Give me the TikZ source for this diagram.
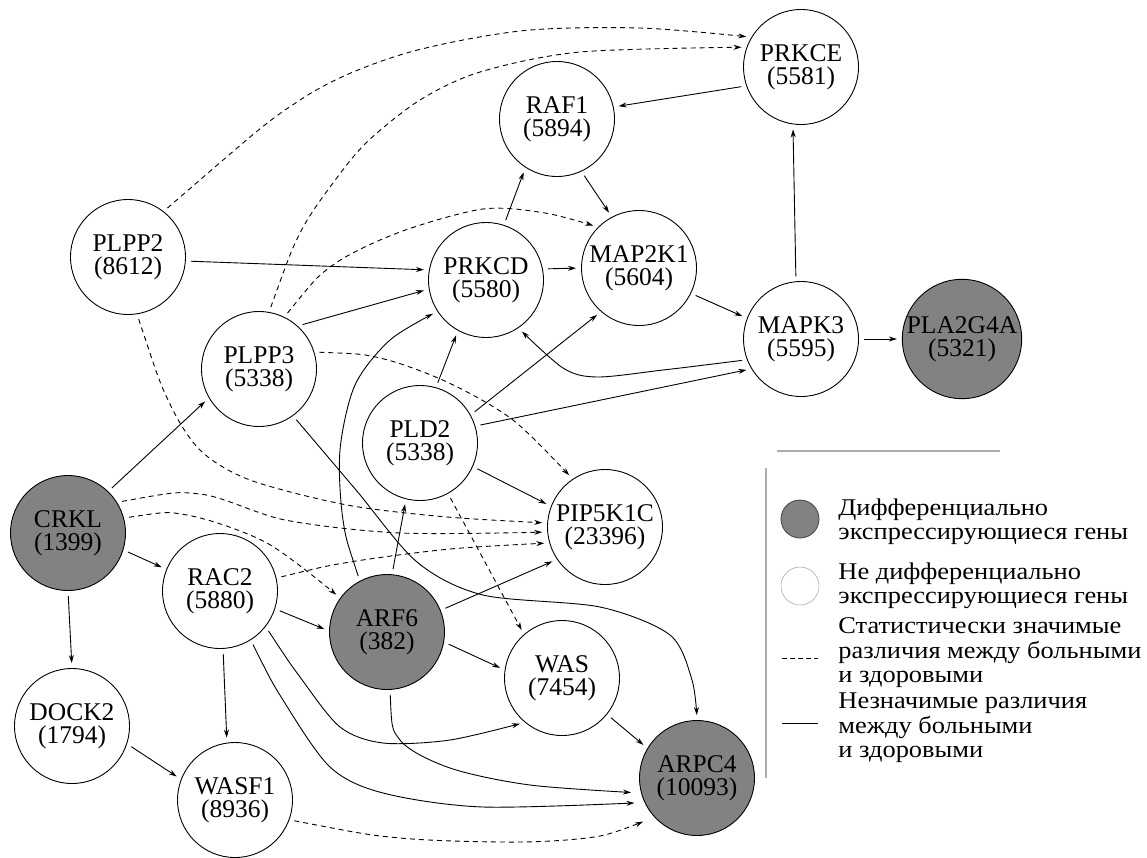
\documentclass[tikz,border=0pt]{standalone}
\usepackage{fontspec}
\setmainfont{Liberation Serif}
\newfontfamily\legfamily[FakeStretch=1.1]{Liberation Serif}
\usepackage{tikz}
\usetikzlibrary{arrows.meta,positioning,calc}

\definecolor{degray}{RGB}{130,130,130}
\definecolor{leggray}{RGB}{172,172,172}
\newcommand\genefont{\fontsize{25.5}{23}\selectfont}
\newcommand\legfont{\legfamily\fontsize{24}{24.5}\selectfont}

\begin{document}
\begin{tikzpicture}[x=1pt,y=-1pt,>={Stealth[length=8pt,width=5pt]},line width=0.9pt,
  gene/.style={circle,draw,minimum size=115pt,inner sep=0pt,align=center,font=\genefont},
  degene/.style={gene,fill=degray},
  nsedge/.style={->,shorten >=5pt,shorten <=5pt},
  sigedge/.style={nsedge,dash pattern=on 5pt off 4pt},
  legtext/.style={anchor=west,align=left,font=\legfont,inner sep=0pt}]
  \useasboundingbox (0,0) rectangle (1147,857);
  % genes
  \foreach \n/\x/\y/\s/\t in {plpp2/128/257/gene/{PLPP2\\(8612)},
      plpp3/259/369/gene/{PLPP3\\(5338)}, prkcd/486/280/gene/{PRKCD\\(5580)},
      raf1/557/119/gene/{RAF1\\(5894)}, map2k1/639/268/gene/{MAP2K1\\(5604)},
      prkce/801/67/gene/{PRKCE\\(5581)}, mapk3/801/339/gene/{MAPK3\\(5595)},
      pla2g4a/962/339/degene/{PLA2G4A\\(5321)}, crkl/68/533/degene/{CRKL\\(1399)},
      rac2/220/591/gene/{RAC2\\(5880)}, dock2/72/726/gene/{DOCK2\\(1794)},
      wasf1/235/800/gene/{WASF1\\(8936)}, arf6/387/632/degene/{ARF6\\(382)},
      was/562/678/gene/{WAS\\(7454)}, pld2/420/443/gene/{PLD2\\(5338)},
      pip5k1c/605/527/gene/{PIP5K1C\\(23396)}, arpc4/697/778/degene/{ARPC4\\(10093)}}{
    \node[\s] (\n) at (\x,\y) {\t};
  }
  % straight links
  \foreach \a/\b in {plpp2.-4/prkcd.170, plpp3.48/prkcd.189, prkcd.72/raf1.237,
      raf1.-65/map2k1.118, prkce.199/raf1.12, prkcd.11/map2k1.180,
      map2k1.-26/mapk3.159, mapk3.95/prkce.262, mapk3.0/pla2g4a.180,
      pld2.17/mapk3.211, pld2.29/map2k1.229, pld2.74/prkcd.241,
      pld2.-24/pip5k1c.159, arf6.85/pld2.256, arf6.22/pip5k1c.214,
      arf6.-10/was.172, rac2.-18/arf6.179, rac2.-87/wasf1.98,
      crkl.-17/rac2.158, crkl.-90/dock2.90, crkl.46/plpp3.210,
      dock2.-18/wasf1.159, was.-39/arpc4.149}{
    \draw[nsedge] (\a) -- (\b);
  }
  \draw[sigedge] (pld2.-61) -- (was.131);
  % curved links, significant
  \draw[sigedge] plot[smooth] coordinates {(plpp2.52) (300,100) (400,55) (520,31) (640,28) (prkce.149)};
  \draw[sigedge] plot[smooth] coordinates {(plpp3.80) (300,233) (333,183) (367,142) (420,100) (480,72) (580,52) (prkce.160)};
  \draw[sigedge] plot[smooth] coordinates {(plpp3.64) (333,265) (400,232) (483,209) (545,213) (map2k1.135)};
  \draw[sigedge] plot[smooth] coordinates {(plpp3.17) (380,358) (447,382) (513,420) (pip5k1c.124)};
  \draw[sigedge] plot[smooth] coordinates {(plpp2.-81) (168,400) (200,450) (250,480) (347,505) (447,517) (pip5k1c.176)};
  \draw[sigedge] plot[smooth] coordinates {(crkl.32) (200,494) (285,520) (400,533) (pip5k1c.185)};
  \draw[sigedge] plot[smooth] coordinates {(crkl.15) (187,515) (267,543) (arf6.144)};
  \draw[sigedge] plot[smooth] coordinates {(rac2.13) (350,562) (450,549) (pip5k1c.196)};
  \draw[sigedge,shorten >=12pt] plot[smooth] coordinates {(wasf1.-20) (400,838) (520,842) (600,836) (arpc4.222)};
  % curved links, not significant
  \draw[nsedge] plot[smooth] coordinates {(mapk3.201) (663,370) (597,377) (563,368) (prkcd.-56)};
  \draw[nsedge] plot[smooth] coordinates {(arf6.118) (343,520) (340,450) (355,385) (390,340) (prkcd.213)};
  \draw[nsedge,shorten >=10pt] plot[smooth] coordinates {(arf6.-87) (400,740) (450,768) (530,785) (arpc4.195)};
  \draw[nsedge] plot[smooth] coordinates {(rac2.-38) (300,677) (340,727) (383,743) (450,740) (was.230)};
  \draw[nsedge,shorten >=10pt] plot[smooth] coordinates {(rac2.-58) (283,700) (330,767) (383,793) (483,807) (arpc4.205)};
  \draw[nsedge] plot[smooth] coordinates {(plpp3.-54) (356,490) (417,562) (483,595) (600,607) (670,635) (692,680) (arpc4.90)};
  % legend
  \coordinate (hlineL) at (777,451); \coordinate (hlineR) at (1000,451);
  \coordinate (vlineT) at (766,468); \coordinate (vlineB) at (766,778);
  \draw[leggray,line width=1.6pt] (hlineL) -- (hlineR);
  \draw[leggray,line width=1.6pt] (vlineT) -- (vlineB);
  \node[circle,draw=black!70,fill=degray,minimum size=38pt,inner sep=0pt] (legde) at (800,519) {};
  \node[circle,draw=leggray,line width=0.6pt,minimum size=38pt,inner sep=0pt] (legnon) at (800,586) {};
  \coordinate (sigA) at (782,658); \coordinate (sigB) at (818,658);
  \coordinate (nsA) at (782,723); \coordinate (nsB) at (818,723);
  \draw[dash pattern=on 5pt off 3pt] (sigA) -- (sigB);
  \draw (nsA) -- (nsB);
  \node[legtext] (tde) at (838,522) {Дифференциально\\экспрессирующиеся гены};
  \node[legtext] (tnon) at (838,586) {Не дифференциально\\экспрессирующиеся гены};
  \node[legtext] (tsig) at (838,653) {Статистически значимые\\различия между больными\\и здоровыми};
  \node[legtext] (tns) at (838,728) {Незначимые различия\\между больными\\и здоровыми};
\end{tikzpicture}
\end{document}
